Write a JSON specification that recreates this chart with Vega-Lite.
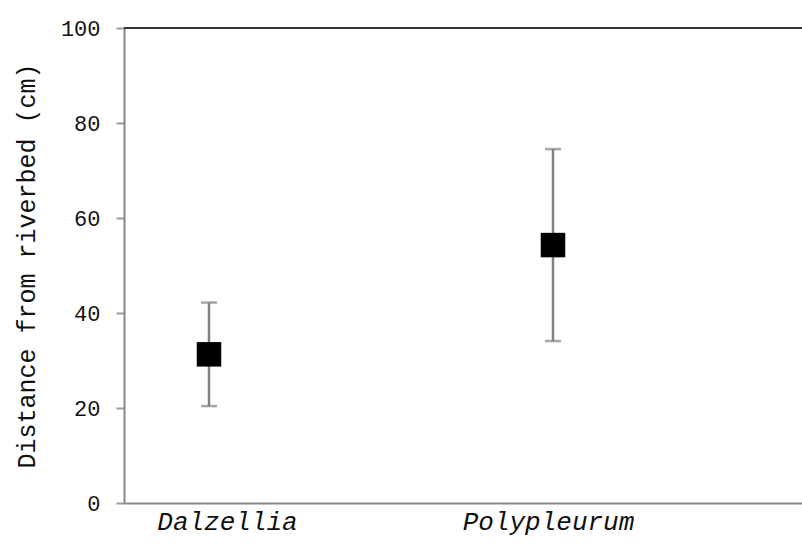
{
  "$schema": "https://vega.github.io/schema/vega-lite/v6.json",
  "width": 678,
  "height": 475,
  "autosize": {"type": "none"},
  "padding": {"left": 124, "top": 28, "right": 0, "bottom": 43},
  "background": "white",
  "config": {
    "view": {"stroke": null},
    "font": "Liberation Mono"
  },
  "data": {
    "values": [
      {"species": "Dalzellia", "mean": 31.3, "low": 20.4, "high": 42.2},
      {"species": "Polypleurum", "mean": 54.3, "low": 34.1, "high": 74.5}
    ]
  },
  "encoding": {
    "x": {
      "field": "species",
      "type": "nominal",
      "sort": null,
      "scale": {"type": "point", "padding": 0.4855, "align": 0.2545},
      "axis": {
        "title": null,
        "labelAngle": 0,
        "labelFont": "Liberation Mono",
        "labelFontStyle": "italic",
        "labelFontSize": 26,
        "labelColor": "#111",
        "labelOffset": {"condition": {"test": "datum.value == 'Dalzellia'", "value": 18}, "value": -5},
        "labelPadding": 5,
        "ticks": false,
        "domainColor": "#888",
        "domainWidth": 2,
        "grid": false
      }
    }
  },
  "layer": [
    {
      "mark": {"type": "rule", "color": "#333", "strokeWidth": 2},
      "encoding": {"x": null, "y": {"datum": 100, "type": "quantitative"}}
    },
    {
      "mark": {"type": "rule", "color": "#808080", "strokeWidth": 2.5},
      "encoding": {
        "y": {
          "field": "low",
          "type": "quantitative",
          "scale": {"domain": [0, 100], "nice": false},
          "axis": {
            "title": "Distance from riverbed (cm)",
            "titleFont": "Liberation Mono",
            "titleFontSize": 25,
            "titleFontWeight": "normal",
            "titleColor": "#111",
            "titlePadding": 21,
            "values": [0, 20, 40, 60, 80, 100],
            "labelFont": "Liberation Mono",
            "labelFontSize": 22,
            "labelColor": "#111",
            "labelPadding": 16,
            "tickSize": 8,
            "tickColor": "#999",
            "tickWidth": 2,
            "domainColor": "#888",
            "domainWidth": 2,
            "grid": false
          }
        },
        "y2": {"field": "high"}
      }
    },
    {
      "mark": {"type": "tick", "color": "#808080", "thickness": 2.5, "size": 16, "orient": "horizontal"},
      "encoding": {"y": {"field": "low", "type": "quantitative"}}
    },
    {
      "mark": {"type": "tick", "color": "#808080", "thickness": 2.5, "size": 16, "orient": "horizontal"},
      "encoding": {"y": {"field": "high", "type": "quantitative"}}
    },
    {
      "mark": {"type": "square", "color": "black", "filled": true, "opacity": 1, "size": 600},
      "encoding": {"y": {"field": "mean", "type": "quantitative"}}
    }
  ]
}
